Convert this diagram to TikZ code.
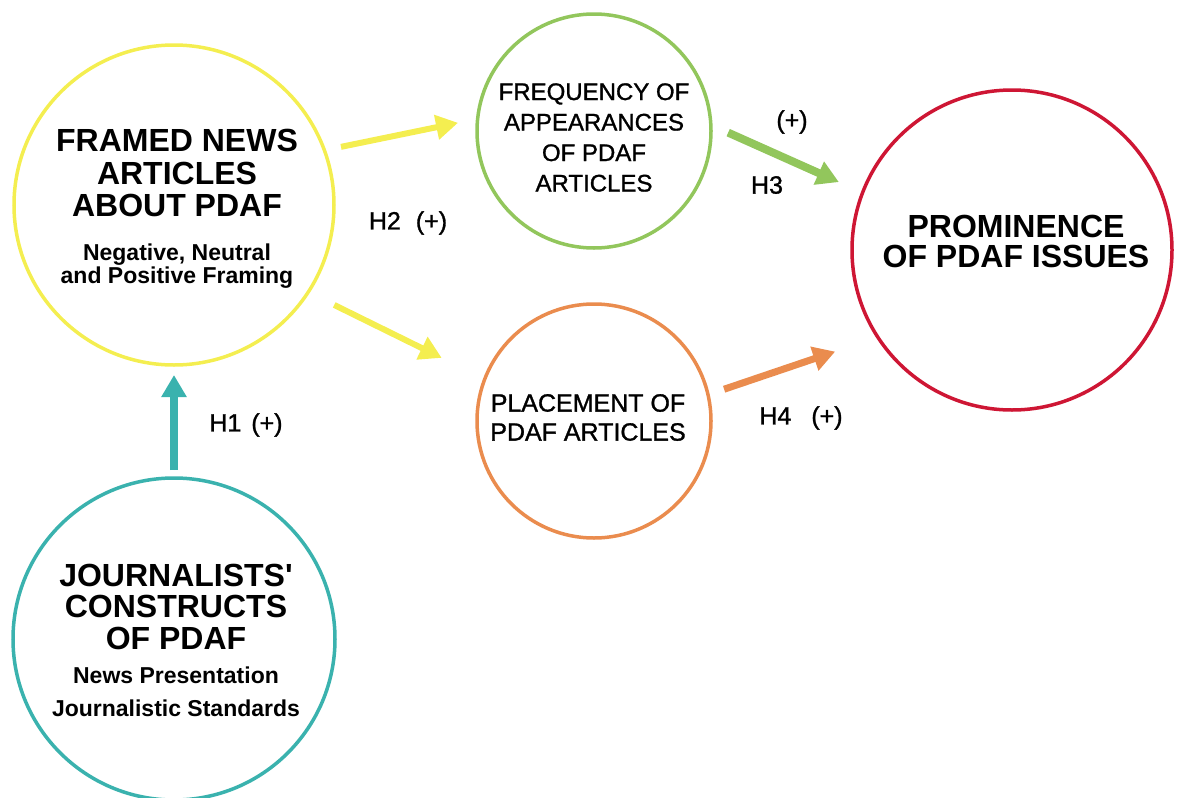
\documentclass[tikz,border=0pt]{standalone}
\usepackage{fontspec}
\setmainfont{Liberation Sans}
\newfontfamily\medfont[FakeBold=1.2]{Liberation Sans}
\usepackage{xcolor}
\usetikzlibrary{arrows.meta, positioning}
\definecolor{framedyellow}{RGB}{244,238,80}
\definecolor{freqgreen}{RGB}{146,198,92}
\definecolor{placeorange}{RGB}{234,140,78}
\definecolor{promred}{RGB}{206,22,52}
\definecolor{journteal}{RGB}{58,178,174}
\tikzset{
    bubble/.style={draw=#1, circle, line width=3.5pt, inner sep=0pt, outer sep=0pt},
    bubble/.default=black
}

\begin{document}
\begin{tikzpicture}[
    x=1pt, y=-1pt,
    title/.style={font=\bfseries\fontsize{32}{32.5}\selectfont, align=center, inner sep=0pt},
    subtxt/.style={font=\bfseries\fontsize{23}{21}\selectfont, align=center, inner sep=0pt},
    plain/.style={font=\medfont\fontsize{24}{30.5}\selectfont, align=center, inner sep=0pt},
    lbl/.style={font=\medfont\fontsize{25}{25}\selectfont, inner sep=0pt},
    arrow/.style={-{Triangle[length=22pt, width=24pt]}, draw=#1, fill=#1}
]
\useasboundingbox (0,0) rectangle (1179,798);

% Circles
\foreach \name/\x/\y/\d/\col in {framed/174/205/320/framedyellow, freq/594/131/234/freqgreen,
    place/594/421/234/placeorange, prom/1012/250/320/promred, journ/174/639/322/journteal} {
    \node[bubble=\col, minimum size=\d pt] (\name) at (\x,\y) {};
}

% Texts inside the circles
\node[title] (framedtitle) at (177,173) {FRAMED NEWS\\ARTICLES\\ABOUT PDAF};
\node[subtxt, below=27pt of framedtitle] (framedsub) {Negative, Neutral\\and Positive Framing};

\node[plain] (freqtxt) at (594,137.5) {FREQUENCY OF\\APPEARANCES\\OF PDAF\\ARTICLES};
\node[plain, font=\medfont\fontsize{25}{29}\selectfont] (placetxt) at (588,417.5) {PLACEMENT OF\\PDAF ARTICLES};
\node[title, font=\bfseries\fontsize{32}{30}\selectfont] (promtxt) at (1016,241) {PROMINENCE\\OF PDAF ISSUES};

\node[title, font=\bfseries\fontsize{32}{31.5}\selectfont] (journtitle) at (176,606.5) {JOURNALISTS\textquotesingle\\CONSTRUCTS\\OF PDAF};
\node[subtxt, font=\bfseries\fontsize{23}{33}\selectfont, below=17pt of journtitle] (journsub) {News Presentation\\Journalistic Standards};

% Hypotheses
\draw[arrow=journteal, line width=8pt, shorten <=8pt, shorten >=10pt] (journ.north) -- (framed.south);
\draw[arrow=framedyellow, line width=6pt, shorten <=17pt, shorten >=20pt] (framed.20) -- (freq.174);
\draw[arrow=framedyellow, line width=6pt, shorten <=29pt, shorten >=48pt] (framed.-33) -- (place.159);
\draw[arrow=freqgreen, line width=8pt, shorten <=19pt, shorten >=26pt] (freq.3) -- (prom.159);
\draw[arrow=placeorange, line width=7pt, shorten <=17pt, shorten >=45pt] (place.13) -- (prom.213);

% Hypothesis labels
\node[lbl] (h1lbl) at (246,425) {H1\hspace{0.4em}(+)};
\node[lbl] (h2lbl) at (408,223) {H2\hspace{0.6em}(+)};
\node[lbl] (h3sign) at (792,122) {(+)};
\node[lbl] (h3lbl) at (767,185) {H3};
\node[lbl] (h4lbl) at (801,418) {H4\hspace{0.8em}(+)};

\end{tikzpicture}
\end{document}
